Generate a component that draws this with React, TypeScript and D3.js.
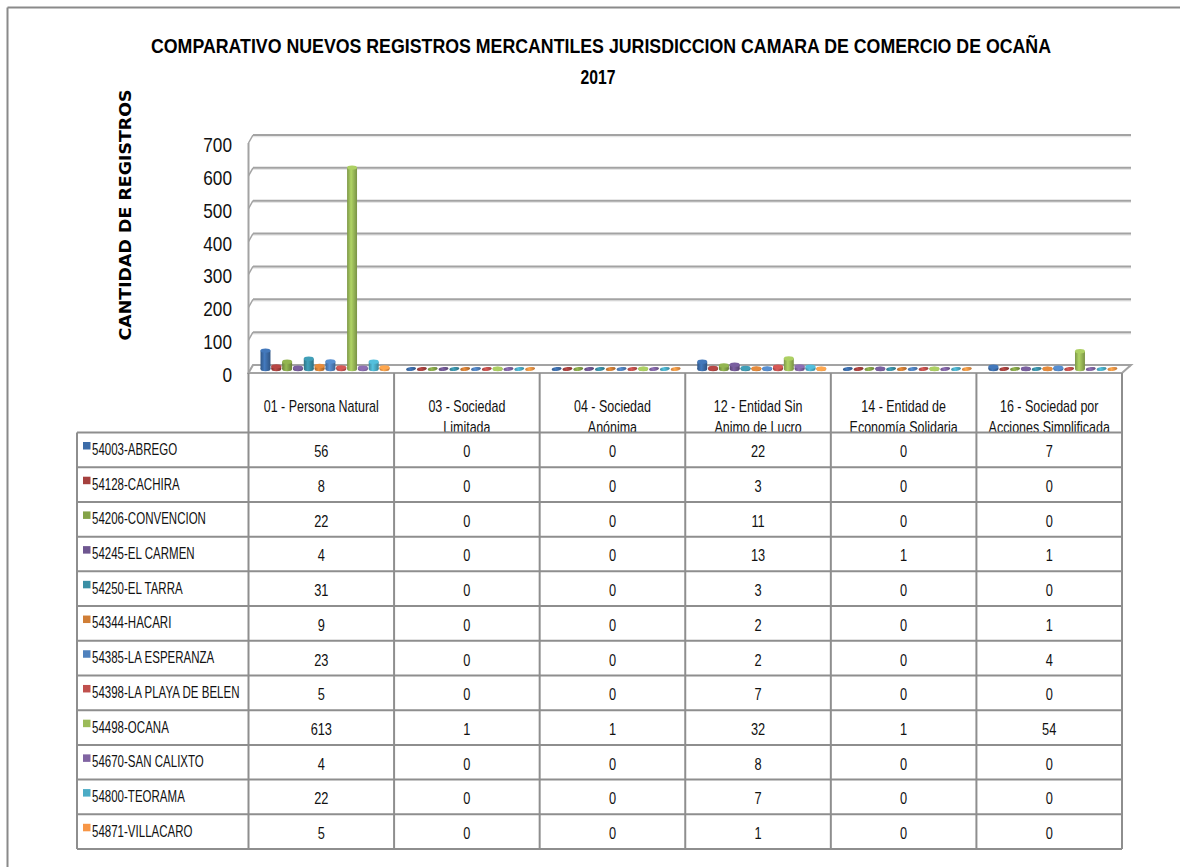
import React from 'react';
import * as d3 from 'd3';

const title = 'COMPARATIVO  NUEVOS REGISTROS  MERCANTILES  JURISDICCION CAMARA DE COMERCIO DE OCAÑA';
const subtitle = '2017';
const yTitle = 'CANTIDAD DE REGISTROS';

const categories = ['01', '03', '04', '12', '14', '16'];
const categoryLines = [
  ['01 - Persona Natural'],
  ['03 - Sociedad', 'Limitada'],
  ['04 - Sociedad', 'Anónima'],
  ['12 - Entidad Sin', 'Animo de Lucro'],
  ['14 - Entidad de', 'Economía Solidaria'],
  ['16 - Sociedad por', 'Acciones Simplificada'],
];

const seriesNames = [
  '54003-ABREGO', '54128-CACHIRA', '54206-CONVENCION', '54245-EL CARMEN',
  '54250-EL TARRA', '54344-HACARI', '54385-LA ESPERANZA', '54398-LA PLAYA DE BELEN',
  '54498-OCANA', '54670-SAN CALIXTO', '54800-TEORAMA', '54871-VILLACARO',
];

const abrego = [56, 0, 0, 22, 0, 7];
const cachira = [8, 0, 0, 3, 0, 0];
const convencion = [22, 0, 0, 11, 0, 0];
const elCarmen = [4, 0, 0, 13, 1, 1];
const elTarra = [31, 0, 0, 3, 0, 0];
const hacari = [9, 0, 0, 2, 0, 1];
const laEsperanza = [23, 0, 0, 2, 0, 4];
const laPlaya = [5, 0, 0, 7, 0, 0];
const ocana = [613, 1, 1, 32, 1, 54];
const sanCalixto = [4, 0, 0, 8, 0, 0];
const teorama = [22, 0, 0, 7, 0, 0];
const villacaro = [5, 0, 0, 1, 0, 0];

const seriesValues = [abrego, cachira, convencion, elCarmen, elTarra, hacari,
  laEsperanza, laPlaya, ocana, sanCalixto, teorama, villacaro];

const colors = ['#3c6ca8', '#a5403e', '#84a348', '#6e5690', '#3a8fa5', '#d07e36',
  '#4f81bd', '#c0504d', '#9bbb59', '#8064a2', '#4bacc6', '#f79646'];

const yTicks = [0, 100, 200, 300, 400, 500, 600, 700];

const font = "'Liberation Sans', Arial, sans-serif";
const gridColor = '#a3a3a3';
const lineColor = '#8e8e8e';

// condensed text: the source uses a narrow font, so squeeze horizontally
const NText = ({ x, y, sx = 0.75, size = 16, anchor = 'start', weight = 'normal', children }: any) => (
  <text transform={`translate(${x},${y}) scale(${sx},1)`} textAnchor={anchor} fontFamily={font}
    fontSize={size} fontWeight={weight} fill="#111">{children}</text>
);

export default function App() {
  // 3D frame: front plane and back plane of the chart
  const frontLeft = 248.5, frontRight = 1122;
  const backLeft = 253, backRight = 1131;
  const depth = 8;
  const floorFront = 373;

  const yBack = d3.scaleLinear().domain([0, 700]).range([floorFront - depth, floorFront - depth - 230]);
  const yBar = d3.scaleLinear().domain([0, 700]).range([floorFront - 4, floorFront - 4 - 230]);
  const yFront = d3.scaleLinear().domain([0, 700]).range([floorFront + 2, floorFront + 2 - 230]);

  const xCat = d3.scaleBand<string>().domain(categories).range([frontLeft, frontRight]).padding(0);
  const xSer = d3.scaleBand<string>().domain(seriesNames).range([12, 141]).paddingInner(0.08);
  const rowY = d3.scaleBand<string>().domain(seriesNames).range([432.5, 849]).padding(0);

  const tableBottom = rowY.range()[1];
  const headerBottom = rowY.range()[0];
  const legendLeft = 77;
  const bw = xSer.bandwidth();

  return (
    <svg width={1180} height={867} style={{ position: 'absolute', left: 0, top: 0, background: '#fff' }}>
      <defs>
        {colors.map((c, i) => (
          <linearGradient key={i} id={`cyl${i}`} x1="0" x2="1" y1="0" y2="0">
            <stop offset="0%" stopColor={d3.color(c)!.darker(0.6).toString()} />
            <stop offset="40%" stopColor={d3.color(c)!.brighter(0.35).toString()} />
            <stop offset="100%" stopColor={d3.color(c)!.darker(0.7).toString()} />
          </linearGradient>
        ))}
        <clipPath id="headerClip">
          <rect x={frontLeft} y={floorFront} width={frontRight - frontLeft} height={headerBottom - floorFront} />
        </clipPath>
      </defs>

      {/* outer frame */}
      <line x1={7.5} x2={1180} y1={7.5} y2={7.5} stroke="#8a8a8a" strokeWidth={2} />
      <line x1={7.5} x2={7.5} y1={7.5} y2={867} stroke="#8a8a8a" strokeWidth={2} />

      {/* titles */}
      <text x={601} y={53} textAnchor="middle" fontFamily={font} fontWeight="bold" fontSize={20}
        textLength={900} lengthAdjust="spacingAndGlyphs">{title}</text>
      <text x={598} y={84} textAnchor="middle" fontFamily={font} fontWeight="bold" fontSize={20}
        textLength={35} lengthAdjust="spacingAndGlyphs">{subtitle}</text>
      <text transform="translate(131,215) rotate(-90)" textAnchor="middle" fontFamily="'DejaVu Sans', sans-serif"
        fontWeight="bold" fontSize={15} textLength={251} lengthAdjust="spacingAndGlyphs">{yTitle}</text>

      {/* gridlines on back wall */}
      {yTicks.map(t => (
        <g key={t}>
          <line x1={backLeft} x2={backRight} y1={yBack(t) + 1.5} y2={yBack(t) + 1.5} stroke="#e6e6e6" strokeWidth={1.5} />
          <line x1={backLeft} x2={backRight} y1={yBack(t)} y2={yBack(t)} stroke={gridColor} strokeWidth={2} />
          <line x1={frontLeft} x2={backLeft} y1={yBack(t) + depth} y2={yBack(t)} stroke={gridColor} strokeWidth={1.5} />
        </g>
      ))}
      <line x1={frontLeft} x2={frontLeft} y1={yBack(700) + depth} y2={floorFront} stroke={gridColor} strokeWidth={2} />

      {/* floor */}
      <polygon
        points={`${frontLeft},${floorFront} ${frontRight},${floorFront} ${backRight},${floorFront - depth} ${backLeft},${floorFront - depth}`}
        fill="#fff" stroke={gridColor} strokeWidth={2} />

      {/* y tick labels */}
      {yTicks.map(t => (
        <NText key={t} x={232} y={yFront(t) + 7} sx={0.86} size={20} anchor="end">{t}</NText>
      ))}

      {/* bars as cylinders */}
      {categories.map((cat, ci) => (
        <g key={cat}>
          {seriesNames.map((s, si) => {
            const v = seriesValues[si][ci];
            const x = (xCat(cat) ?? 0) + (xSer(s) ?? 0);
            const cx = x + bw / 2;
            const y0 = yBar(0);
            const y1 = yBar(v);
            if (v === 0) {
              return (
                <ellipse key={s} cx={cx} cy={y0} rx={bw / 2} ry={1.9}
                  fill={`url(#cyl${si})`} transform={`rotate(-8 ${cx} ${y0})`} />
              );
            }
            return (
              <g key={s}>
                <ellipse cx={cx} cy={y0} rx={bw / 2} ry={2.2} fill={`url(#cyl${si})`} />
                <rect x={x} y={y1} width={bw} height={y0 - y1} fill={`url(#cyl${si})`} />
                <ellipse cx={cx} cy={y1} rx={bw / 2} ry={2.2} fill={d3.color(colors[si])!.brighter(0.3).toString()} />
              </g>
            );
          })}
        </g>
      ))}

      {/* data table: header */}
      <g clipPath="url(#headerClip)">
        {categories.map((cat, ci) => (
          <g key={cat}>
            {categoryLines[ci].map((ln, li) => (
              <NText key={li} x={(xCat(cat) ?? 0) + xCat.bandwidth() / 2} y={412 + li * 21} sx={0.78} size={16}
                anchor="middle">{ln}</NText>
            ))}
          </g>
        ))}
      </g>

      {/* data table: rows */}
      {seriesNames.map((s, si) => {
        const top = rowY(s) ?? 0;
        const h = rowY.bandwidth();
        return (
          <g key={s}>
            <rect x={83} y={top + 9.5} width={7.5} height={7.5} fill={colors[si]} />
            <NText x={92} y={top + h / 2 + 5} sx={0.72} size={16}>{s}</NText>
            {categories.map((cat, ci) => (
              <NText key={cat} x={(xCat(cat) ?? 0) + xCat.bandwidth() / 2} y={top + h / 2 + 7.5}
                sx={0.8} size={16} anchor="middle">{seriesValues[si][ci]}</NText>
            ))}
          </g>
        );
      })}

      {/* table grid lines */}
      {seriesNames.map(s => (
        <line key={s} x1={legendLeft} x2={frontRight} y1={rowY(s) ?? 0} y2={rowY(s) ?? 0} stroke={lineColor} strokeWidth={2} />
      ))}
      <line x1={legendLeft} x2={frontRight} y1={tableBottom} y2={tableBottom} stroke={lineColor} strokeWidth={2} />
      <line x1={legendLeft} x2={legendLeft} y1={headerBottom} y2={tableBottom} stroke={lineColor} strokeWidth={2} />
      {categories.map(cat => (
        <line key={cat} x1={xCat(cat) ?? 0} x2={xCat(cat) ?? 0} y1={floorFront} y2={tableBottom} stroke={lineColor} strokeWidth={2} />
      ))}
      <line x1={frontRight} x2={frontRight} y1={floorFront} y2={tableBottom} stroke={lineColor} strokeWidth={2} />
    </svg>
  );
}
